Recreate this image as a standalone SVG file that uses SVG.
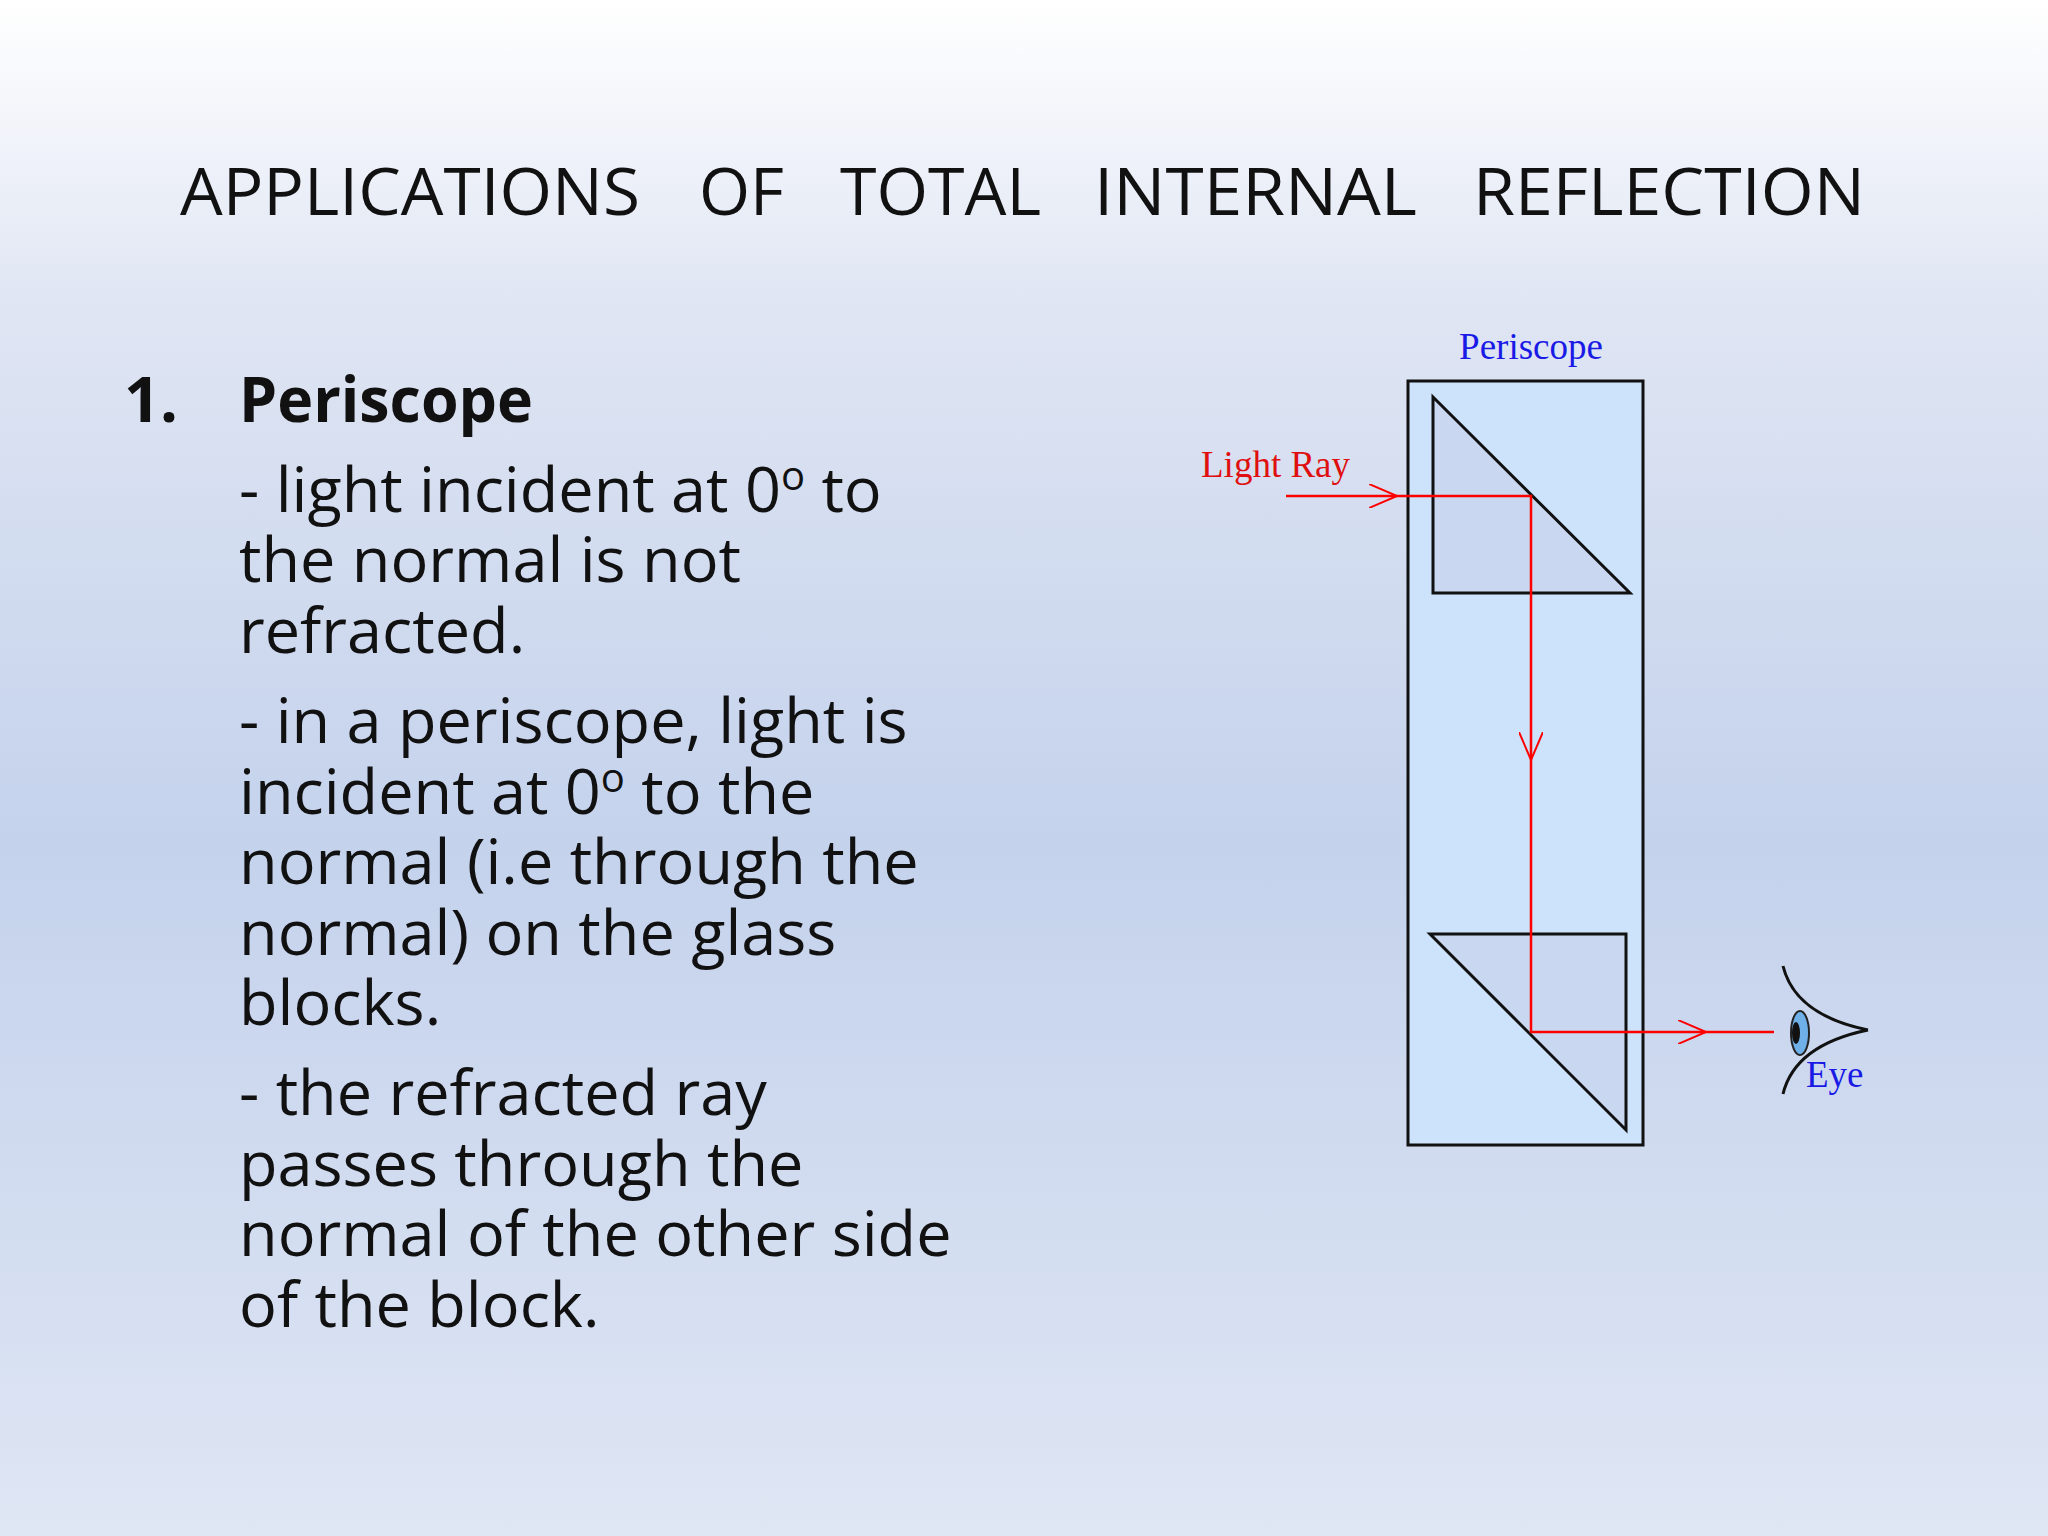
<svg xmlns="http://www.w3.org/2000/svg" width="2048" height="1536" viewBox="0 0 2048 1536">
<defs>
<linearGradient id="bg" x1="0" y1="0" x2="0" y2="1">
<stop offset="0" stop-color="#ffffff"/>
<stop offset="0.2" stop-color="#dfe5f3"/>
<stop offset="0.55" stop-color="#c4d2ec"/>
<stop offset="1" stop-color="#dfe6f4"/>
</linearGradient>
<marker id="ah" markerWidth="30" markerHeight="24" refX="28" refY="12" orient="auto" markerUnits="userSpaceOnUse">
<path d="M0,0 L28,12 L0,24" fill="none" stroke="#ff0000" stroke-width="2"/>
</marker>
<style>
.t{font-family:"Open Sans","Liberation Sans",sans-serif;font-size:66px;fill:#111}
.b{font-family:"Open Sans","Liberation Sans",sans-serif;font-size:63px;fill:#111}
.s{font-family:"Liberation Serif","Times New Roman",serif;font-size:37px}
.ln{stroke:#111;stroke-width:3}
.ray{fill:none;stroke:#ff0000;stroke-width:2.5}
</style>
</defs>
<rect width="2048" height="1536" fill="url(#bg)"/>
<g id="title">
<text class="t" x="180" y="215" textLength="460" lengthAdjust="spacingAndGlyphs">APPLICATIONS</text>
<text class="t" x="699" y="215" textLength="85" lengthAdjust="spacingAndGlyphs">OF</text>
<text class="t" x="840" y="215" textLength="201" lengthAdjust="spacingAndGlyphs">TOTAL</text>
<text class="t" x="1094" y="215" textLength="323" lengthAdjust="spacingAndGlyphs">INTERNAL</text>
<text class="t" x="1473" y="215" textLength="392" lengthAdjust="spacingAndGlyphs">REFLECTION</text>
</g>
<g id="body">
<text class="b" x="124" y="422" font-weight="bold">1.</text>
<text class="b" x="239" y="422" font-weight="bold" textLength="294" lengthAdjust="spacingAndGlyphs">Periscope</text>
<text class="b" x="239" y="512">- light incident at 0<tspan font-size="40" dy="-22">o</tspan><tspan dy="22"> to</tspan></text>
<text class="b" x="239" y="582">the normal is not</text>
<text class="b" x="239" y="653">refracted.</text>
<text class="b" x="239" y="743">- in a periscope, light is</text>
<text class="b" x="239" y="814">incident at 0<tspan font-size="40" dy="-22">o</tspan><tspan dy="22"> to the</tspan></text>
<text class="b" x="239" y="884">normal (i.e through the</text>
<text class="b" x="239" y="955">normal) on the glass</text>
<text class="b" x="239" y="1025">blocks.</text>
<text class="b" x="239" y="1115">- the refracted ray</text>
<text class="b" x="239" y="1186">passes through the</text>
<text class="b" x="239" y="1256">normal of the other side</text>
<text class="b" x="239" y="1327">of the block.</text>
</g>
<g id="periscope">
<rect x="1408" y="381" width="235" height="764" fill="#cde3fb" class="ln"/>
<polygon points="1433,397 1433,593 1630,593" fill="#c9d8f0" class="ln"/>
<polygon points="1430,934 1626,934 1626,1130" fill="#c9d8f0" class="ln"/>
<text class="s" x="1531" y="359" text-anchor="middle" fill="#1a1ae6">Periscope</text>
</g>
<g id="eye">
<path d="M1783,966 Q1795,1015 1868,1030 M1783,1094 Q1795,1045 1868,1030" class="ln" fill="none"/>
<ellipse cx="1800" cy="1033" rx="9" ry="22" fill="#6fb0e8" stroke="#222" stroke-width="2"/>
<ellipse cx="1796" cy="1033" rx="4" ry="11" fill="#111"/>
<text class="s" x="1806" y="1087" fill="#1a1ae6">Eye</text>
</g>
<g id="connectors">
<path d="M1286,496 H1397" class="ray" marker-end="url(#ah)"/>
<path d="M1397,496 H1531 V760" class="ray" marker-end="url(#ah)"/>
<path d="M1531,760 V1032 H1706" class="ray" marker-end="url(#ah)"/>
<path d="M1706,1032 H1774" class="ray"/>
<text class="s" x="1201" y="477" fill="#e01010">Light Ray</text>
</g>
</svg>
